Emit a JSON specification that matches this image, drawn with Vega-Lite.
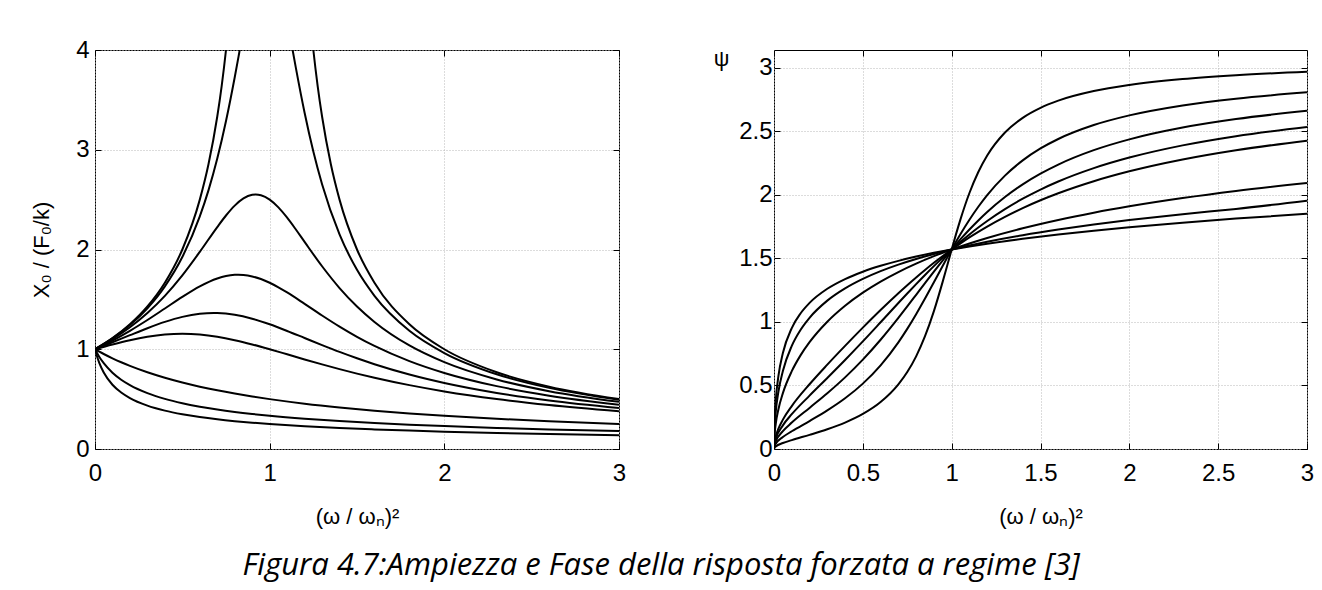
{
  "$schema": "https://vega.github.io/schema/vega-lite/v6.json",
  "background": "white",
  "padding": {"left": 30, "top": 5, "right": 5, "bottom": 5},
  "bounds": "flush",
  "spacing": 155,
  "title": {"text": "Figura 4.7:Ampiezza e Fase della risposta forzata a regime [3]", "orient": "bottom", "anchor": "middle", "font": "Open Sans", "fontStyle": "italic", "fontWeight": "normal", "fontSize": 31, "color": "#000", "offset": 23, "dx": -11},
  "datasets": {
    "amp": [
      {"z":"0","x":0,"y":1},{"z":"0","x":0.1,"y":1.1111},{"z":"0","x":0.2,"y":1.25},{"z":"0","x":0.3,"y":1.4286},{"z":"0","x":0.4,"y":1.6667},{"z":"0","x":0.5,"y":2},{"z":"0","x":0.6,"y":2.5},{"z":"0","x":0.65,"y":2.8571},{"z":"0","x":0.7,"y":3.3333},{"z":"0","x":0.725,"y":3.6364},{"z":"0","x":0.75,"y":4},{"z":"0","x":0.775,"y":4.4444},{"z":"0","x":1.225,"y":4.4444},{"z":"0","x":1.25,"y":4},{"z":"0","x":1.275,"y":3.6364},{"z":"0","x":1.3,"y":3.3333},{"z":"0","x":1.35,"y":2.8571},{"z":"0","x":1.4,"y":2.5},{"z":"0","x":1.5,"y":2},{"z":"0","x":1.6,"y":1.6667},{"z":"0","x":1.8,"y":1.25},{"z":"0","x":2,"y":1},{"z":"0","x":2.3,"y":0.7692},{"z":"0","x":2.6,"y":0.625},{"z":"0","x":3,"y":0.5},
      {"z":"0.1","x":0,"y":1},{"z":"0.1","x":0.1,"y":1.1084},{"z":"0.1","x":0.2,"y":1.2423},{"z":"0.1","x":0.3,"y":1.4114},{"z":"0.1","x":0.4,"y":1.6308},{"z":"0.1","x":0.5,"y":1.9245},{"z":"0.1","x":0.6,"y":2.3313},{"z":"0.1","x":0.65,"y":2.595},{"z":"0.1","x":0.7,"y":2.9111},{"z":"0.1","x":0.75,"y":3.288},{"z":"0.1","x":0.8,"y":3.7268},{"z":"0.1","x":0.825,"y":3.9645},{"z":"0.1","x":0.85,"y":4.2071},{"z":"0.1","x":1.1,"y":4.3033},{"z":"0.1","x":1.125,"y":4.0614},{"z":"0.1","x":1.15,"y":3.8208},{"z":"0.1","x":1.2,"y":3.371},{"z":"0.1","x":1.25,"y":2.9814},{"z":"0.1","x":1.3,"y":2.6537},{"z":"0.1","x":1.4,"y":2.1517},{"z":"0.1","x":1.5,"y":1.7961},{"z":"0.1","x":1.6,"y":1.5357},{"z":"0.1","x":1.8,"y":1.1851},{"z":"0.1","x":2,"y":0.9623},{"z":"0.1","x":2.3,"y":0.7491},{"z":"0.1","x":2.6,"y":0.6127},{"z":"0.1","x":3,"y":0.4927},
      {"z":"0.2","x":0,"y":1},{"z":"0.2","x":0.1,"y":1.1003},{"z":"0.2","x":0.2,"y":1.2199},{"z":"0.2","x":0.3,"y":1.3634},{"z":"0.2","x":0.4,"y":1.5357},{"z":"0.2","x":0.5,"y":1.7408},{"z":"0.2","x":0.6,"y":1.9764},{"z":"0.2","x":0.7,"y":2.225},{"z":"0.2","x":0.75,"y":2.3408},{"z":"0.2","x":0.8,"y":2.4398},{"z":"0.2","x":0.85,"y":2.5118},{"z":"0.2","x":0.9,"y":2.5482},{"z":"0.2","x":0.92,"y":2.5516},{"z":"0.2","x":0.95,"y":2.5441},{"z":"0.2","x":1,"y":2.5},{"z":"0.2","x":1.05,"y":2.4218},{"z":"0.2","x":1.1,"y":2.3187},{"z":"0.2","x":1.15,"y":2.2006},{"z":"0.2","x":1.2,"y":2.0761},{"z":"0.2","x":1.3,"y":1.8319},{"z":"0.2","x":1.4,"y":1.6137},{"z":"0.2","x":1.5,"y":1.4286},{"z":"0.2","x":1.6,"y":1.2741},{"z":"0.2","x":1.8,"y":1.0381},{"z":"0.2","x":2,"y":0.8704},{"z":"0.2","x":2.3,"y":0.6971},{"z":"0.2","x":2.6,"y":0.5797},{"z":"0.2","x":3,"y":0.4725},
      {"z":"0.3","x":0,"y":1},{"z":"0.3","x":0.1,"y":1.0872},{"z":"0.3","x":0.2,"y":1.1851},{"z":"0.3","x":0.3,"y":1.2932},{"z":"0.3","x":0.4,"y":1.4086},{"z":"0.3","x":0.5,"y":1.525},{"z":"0.3","x":0.6,"y":1.6308},{"z":"0.3","x":0.7,"y":1.71},{"z":"0.3","x":0.75,"y":1.7342},{"z":"0.3","x":0.8,"y":1.7461},{"z":"0.3","x":0.82,"y":1.7472},{"z":"0.3","x":0.85,"y":1.7448},{"z":"0.3","x":0.9,"y":1.7303},{"z":"0.3","x":0.95,"y":1.7037},{"z":"0.3","x":1,"y":1.6667},{"z":"0.3","x":1.05,"y":1.6211},{"z":"0.3","x":1.1,"y":1.5694},{"z":"0.3","x":1.2,"y":1.4556},{"z":"0.3","x":1.3,"y":1.3387},{"z":"0.3","x":1.4,"y":1.2272},{"z":"0.3","x":1.5,"y":1.1251},{"z":"0.3","x":1.6,"y":1.0336},{"z":"0.3","x":1.8,"y":0.8811},{"z":"0.3","x":2,"y":0.7625},{"z":"0.3","x":2.3,"y":0.6302},{"z":"0.3","x":2.6,"y":0.5348},{"z":"0.3","x":3,"y":0.4437},
      {"z":"0.4","x":0,"y":1},{"z":"0.4","x":0.1,"y":1.0697},{"z":"0.4","x":0.2,"y":1.1411},{"z":"0.4","x":0.3,"y":1.2109},{"z":"0.4","x":0.4,"y":1.2741},{"z":"0.4","x":0.5,"y":1.3245},{"z":"0.4","x":0.6,"y":1.3558},{"z":"0.4","x":0.68,"y":1.3639},{"z":"0.4","x":0.7,"y":1.3634},{"z":"0.4","x":0.8,"y":1.346},{"z":"0.4","x":0.9,"y":1.3063},{"z":"0.4","x":1,"y":1.25},{"z":"0.4","x":1.1,"y":1.1835},{"z":"0.4","x":1.2,"y":1.1125},{"z":"0.4","x":1.3,"y":1.0414},{"z":"0.4","x":1.4,"y":0.9731},{"z":"0.4","x":1.5,"y":0.9091},{"z":"0.4","x":1.6,"y":0.85},{"z":"0.4","x":1.8,"y":0.747},{"z":"0.4","x":2,"y":0.6623},{"z":"0.4","x":2.3,"y":0.5624},{"z":"0.4","x":2.6,"y":0.4866},{"z":"0.4","x":3,"y":0.411},
      {"z":"0.5","x":0,"y":1},{"z":"0.5","x":0.1,"y":1.0483},{"z":"0.5","x":0.2,"y":1.0911},{"z":"0.5","x":0.3,"y":1.1251},{"z":"0.5","x":0.4,"y":1.1471},{"z":"0.5","x":0.5,"y":1.1547},{"z":"0.5","x":0.6,"y":1.1471},{"z":"0.5","x":0.7,"y":1.1251},{"z":"0.5","x":0.8,"y":1.0911},{"z":"0.5","x":0.9,"y":1.0483},{"z":"0.5","x":1,"y":1},{"z":"0.5","x":1.1,"y":0.9492},{"z":"0.5","x":1.2,"y":0.898},{"z":"0.5","x":1.3,"y":0.8482},{"z":"0.5","x":1.4,"y":0.8006},{"z":"0.5","x":1.5,"y":0.7559},{"z":"0.5","x":1.6,"y":0.7143},{"z":"0.5","x":1.8,"y":0.6402},{"z":"0.5","x":2,"y":0.5774},{"z":"0.5","x":2.3,"y":0.5006},{"z":"0.5","x":2.6,"y":0.4402},{"z":"0.5","x":3,"y":0.378},
      {"z":"1","x":0,"y":1},{"z":"1","x":0.025,"y":0.9756},{"z":"1","x":0.05,"y":0.9524},{"z":"1","x":0.1,"y":0.9091},{"z":"1","x":0.15,"y":0.8696},{"z":"1","x":0.2,"y":0.8333},{"z":"1","x":0.3,"y":0.7692},{"z":"1","x":0.4,"y":0.7143},{"z":"1","x":0.5,"y":0.6667},{"z":"1","x":0.6,"y":0.625},{"z":"1","x":0.7,"y":0.5882},{"z":"1","x":0.8,"y":0.5556},{"z":"1","x":0.9,"y":0.5263},{"z":"1","x":1,"y":0.5},{"z":"1","x":1.2,"y":0.4545},{"z":"1","x":1.4,"y":0.4167},{"z":"1","x":1.6,"y":0.3846},{"z":"1","x":1.8,"y":0.3571},{"z":"1","x":2,"y":0.3333},{"z":"1","x":2.3,"y":0.303},{"z":"1","x":2.6,"y":0.2778},{"z":"1","x":3,"y":0.25},
      {"z":"1.5","x":0,"y":1},{"z":"1.5","x":0.01,"y":0.9667},{"z":"1.5","x":0.025,"y":0.9223},{"z":"1.5","x":0.05,"y":0.8599},{"z":"1.5","x":0.1,"y":0.7647},{"z":"1.5","x":0.15,"y":0.6946},{"z":"1.5","x":0.2,"y":0.6402},{"z":"1.5","x":0.3,"y":0.5599},{"z":"1.5","x":0.4,"y":0.5025},{"z":"1.5","x":0.5,"y":0.4588},{"z":"1.5","x":0.6,"y":0.4241},{"z":"1.5","x":0.7,"y":0.3956},{"z":"1.5","x":0.8,"y":0.3716},{"z":"1.5","x":0.9,"y":0.3511},{"z":"1.5","x":1,"y":0.3333},{"z":"1.5","x":1.2,"y":0.3037},{"z":"1.5","x":1.4,"y":0.2799},{"z":"1.5","x":1.6,"y":0.2603},{"z":"1.5","x":1.8,"y":0.2437},{"z":"1.5","x":2,"y":0.2294},{"z":"1.5","x":2.3,"y":0.2113},{"z":"1.5","x":2.6,"y":0.1963},{"z":"1.5","x":3,"y":0.1796},
      {"z":"2","x":0,"y":1},{"z":"2","x":0.01,"y":0.9365},{"z":"2","x":0.025,"y":0.8605},{"z":"2","x":0.05,"y":0.7664},{"z":"2","x":0.1,"y":0.6442},{"z":"2","x":0.15,"y":0.5659},{"z":"2","x":0.2,"y":0.5103},{"z":"2","x":0.3,"y":0.4348},{"z":"2","x":0.4,"y":0.3846},{"z":"2","x":0.5,"y":0.3482},{"z":"2","x":0.6,"y":0.3201},{"z":"2","x":0.7,"y":0.2976},{"z":"2","x":0.8,"y":0.2791},{"z":"2","x":0.9,"y":0.2634},{"z":"2","x":1,"y":0.25},{"z":"2","x":1.2,"y":0.228},{"z":"2","x":1.4,"y":0.2105},{"z":"2","x":1.6,"y":0.1963},{"z":"2","x":1.8,"y":0.1843},{"z":"2","x":2,"y":0.1741},{"z":"2","x":2.3,"y":0.1612},{"z":"2","x":2.6,"y":0.1505},{"z":"2","x":3,"y":0.1387}
    ],
    "phase": [
      {"z":"0.1","x":0,"y":0},{"z":"0.1","x":0.0025,"y":0.01},{"z":"0.1","x":0.01,"y":0.0202},{"z":"0.1","x":0.05,"y":0.047},{"z":"0.1","x":0.1,"y":0.0702},{"z":"0.1","x":0.2,"y":0.1113},{"z":"0.1","x":0.3,"y":0.1552},{"z":"0.1","x":0.4,"y":0.2078},{"z":"0.1","x":0.5,"y":0.2757},{"z":"0.1","x":0.6,"y":0.3695},{"z":"0.1","x":0.7,"y":0.5088},{"z":"0.1","x":0.75,"y":0.6059},{"z":"0.1","x":0.8,"y":0.7297},{"z":"0.1","x":0.85,"y":0.8879},{"z":"0.1","x":0.9,"y":1.0857},{"z":"0.1","x":0.95,"y":1.3197},{"z":"0.1","x":0.975,"y":1.4449},{"z":"0.1","x":1,"y":1.5708},{"z":"0.1","x":1.025,"y":1.6937},{"z":"0.1","x":1.05,"y":1.8101},{"z":"0.1","x":1.1,"y":2.0157},{"z":"0.1","x":1.15,"y":2.1811},{"z":"0.1","x":1.2,"y":2.3107},{"z":"0.1","x":1.3,"y":2.4917},{"z":"0.1","x":1.4,"y":2.6074},{"z":"0.1","x":1.5,"y":2.686},{"z":"0.1","x":1.6,"y":2.7426},{"z":"0.1","x":1.8,"y":2.818},{"z":"0.1","x":2,"y":2.8659},{"z":"0.1","x":2.3,"y":2.9124},{"z":"0.1","x":2.6,"y":2.9427},{"z":"0.1","x":3,"y":2.9701},
      {"z":"0.2","x":0,"y":0},{"z":"0.2","x":0.0025,"y":0.02},{"z":"0.2","x":0.01,"y":0.0404},{"z":"0.2","x":0.05,"y":0.0939},{"z":"0.2","x":0.1,"y":0.1396},{"z":"0.2","x":0.2,"y":0.22},{"z":"0.2","x":0.3,"y":0.3037},{"z":"0.2","x":0.4,"y":0.399},{"z":"0.2","x":0.5,"y":0.5148},{"z":"0.2","x":0.6,"y":0.6591},{"z":"0.2","x":0.7,"y":0.84},{"z":"0.2","x":0.75,"y":0.9457},{"z":"0.2","x":0.8,"y":1.0611},{"z":"0.2","x":0.85,"y":1.1845},{"z":"0.2","x":0.9,"y":1.3131},{"z":"0.2","x":0.95,"y":1.4433},{"z":"0.2","x":1,"y":1.5708},{"z":"0.2","x":1.05,"y":1.6922},{"z":"0.2","x":1.1,"y":1.8048},{"z":"0.2","x":1.15,"y":1.9072},{"z":"0.2","x":1.2,"y":1.999},{"z":"0.2","x":1.3,"y":2.1526},{"z":"0.2","x":1.4,"y":2.2725},{"z":"0.2","x":1.5,"y":2.3664},{"z":"0.2","x":1.6,"y":2.441},{"z":"0.2","x":1.8,"y":2.5507},{"z":"0.2","x":2,"y":2.6268},{"z":"0.2","x":2.3,"y":2.705},{"z":"0.2","x":2.6,"y":2.7584},{"z":"0.2","x":3,"y":2.8081},
      {"z":"0.3","x":0,"y":0},{"z":"0.3","x":0.0025,"y":0.0301},{"z":"0.3","x":0.01,"y":0.0605},{"z":"0.3","x":0.05,"y":0.1403},{"z":"0.3","x":0.1,"y":0.2078},{"z":"0.3","x":0.2,"y":0.3236},{"z":"0.3","x":0.3,"y":0.4389},{"z":"0.3","x":0.4,"y":0.564},{"z":"0.3","x":0.5,"y":0.7036},{"z":"0.3","x":0.6,"y":0.8601},{"z":"0.3","x":0.7,"y":1.0321},{"z":"0.3","x":0.75,"y":1.1224},{"z":"0.3","x":0.8,"y":1.2141},{"z":"0.3","x":0.85,"y":1.306},{"z":"0.3","x":0.9,"y":1.3969},{"z":"0.3","x":0.95,"y":1.4855},{"z":"0.3","x":1,"y":1.5708},{"z":"0.3","x":1.05,"y":1.6519},{"z":"0.3","x":1.1,"y":1.7284},{"z":"0.3","x":1.15,"y":1.7998},{"z":"0.3","x":1.2,"y":1.8662},{"z":"0.3","x":1.3,"y":1.9841},{"z":"0.3","x":1.4,"y":2.0839},{"z":"0.3","x":1.5,"y":2.1683},{"z":"0.3","x":1.6,"y":2.2398},{"z":"0.3","x":1.8,"y":2.3531},{"z":"0.3","x":2,"y":2.438},{"z":"0.3","x":2.3,"y":2.5309},{"z":"0.3","x":2.6,"y":2.5977},{"z":"0.3","x":3,"y":2.6624},
      {"z":"0.4","x":0,"y":0},{"z":"0.4","x":0.0025,"y":0.0401},{"z":"0.4","x":0.01,"y":0.0806},{"z":"0.4","x":0.05,"y":0.1861},{"z":"0.4","x":0.1,"y":0.274},{"z":"0.4","x":0.2,"y":0.4205},{"z":"0.4","x":0.3,"y":0.5593},{"z":"0.4","x":0.4,"y":0.7006},{"z":"0.4","x":0.5,"y":0.847},{"z":"0.4","x":0.6,"y":0.9976},{"z":"0.4","x":0.7,"y":1.1494},{"z":"0.4","x":0.75,"y":1.2245},{"z":"0.4","x":0.8,"y":1.2982},{"z":"0.4","x":0.85,"y":1.3702},{"z":"0.4","x":0.9,"y":1.4398},{"z":"0.4","x":0.95,"y":1.5068},{"z":"0.4","x":1,"y":1.5708},{"z":"0.4","x":1.05,"y":1.6317},{"z":"0.4","x":1.1,"y":1.6894},{"z":"0.4","x":1.15,"y":1.7439},{"z":"0.4","x":1.2,"y":1.7952},{"z":"0.4","x":1.3,"y":1.8886},{"z":"0.4","x":1.4,"y":1.9706},{"z":"0.4","x":1.5,"y":2.0427},{"z":"0.4","x":1.6,"y":2.106},{"z":"0.4","x":1.8,"y":2.2113},{"z":"0.4","x":2,"y":2.2946},{"z":"0.4","x":2.3,"y":2.3907},{"z":"0.4","x":2.6,"y":2.4631},{"z":"0.4","x":3,"y":2.5357},
      {"z":"0.5","x":0,"y":0},{"z":"0.5","x":0.0025,"y":0.0501},{"z":"0.5","x":0.01,"y":0.1007},{"z":"0.5","x":0.025,"y":0.1608},{"z":"0.5","x":0.05,"y":0.2312},{"z":"0.5","x":0.1,"y":0.3379},{"z":"0.5","x":0.2,"y":0.5097},{"z":"0.5","x":0.3,"y":0.664},{"z":"0.5","x":0.4,"y":0.8117},{"z":"0.5","x":0.5,"y":0.9553},{"z":"0.5","x":0.6,"y":1.0941},{"z":"0.5","x":0.7,"y":1.2265},{"z":"0.5","x":0.75,"y":1.2898},{"z":"0.5","x":0.8,"y":1.3508},{"z":"0.5","x":0.85,"y":1.4095},{"z":"0.5","x":0.9,"y":1.4658},{"z":"0.5","x":0.95,"y":1.5195},{"z":"0.5","x":1,"y":1.5708},{"z":"0.5","x":1.05,"y":1.6196},{"z":"0.5","x":1.1,"y":1.6659},{"z":"0.5","x":1.15,"y":1.7098},{"z":"0.5","x":1.2,"y":1.7514},{"z":"0.5","x":1.3,"y":1.8281},{"z":"0.5","x":1.4,"y":1.8968},{"z":"0.5","x":1.5,"y":1.9584},{"z":"0.5","x":1.6,"y":2.0137},{"z":"0.5","x":1.8,"y":2.1085},{"z":"0.5","x":2,"y":2.1863},{"z":"0.5","x":2.3,"y":2.2795},{"z":"0.5","x":2.6,"y":2.3523},{"z":"0.5","x":3,"y":2.4279},
      {"z":"1","x":0,"y":0},{"z":"1","x":0.0025,"y":0.0999},{"z":"1","x":0.01,"y":0.1993},{"z":"1","x":0.025,"y":0.3136},{"z":"1","x":0.05,"y":0.44},{"z":"1","x":0.1,"y":0.6126},{"z":"1","x":0.15,"y":0.739},{"z":"1","x":0.2,"y":0.8411},{"z":"1","x":0.3,"y":1.0022},{"z":"1","x":0.4,"y":1.1279},{"z":"1","x":0.5,"y":1.231},{"z":"1","x":0.6,"y":1.3182},{"z":"1","x":0.7,"y":1.3934},{"z":"1","x":0.8,"y":1.4594},{"z":"1","x":0.9,"y":1.5181},{"z":"1","x":1,"y":1.5708},{"z":"1","x":1.1,"y":1.6184},{"z":"1","x":1.2,"y":1.6618},{"z":"1","x":1.4,"y":1.7382},{"z":"1","x":1.6,"y":1.8037},{"z":"1","x":1.8,"y":1.8605},{"z":"1","x":2,"y":1.9106},{"z":"1","x":2.3,"y":1.9757},{"z":"1","x":2.6,"y":2.0314},{"z":"1","x":3,"y":2.0944},
      {"z":"1.5","x":0,"y":0},{"z":"1.5","x":0.0025,"y":0.1493},{"z":"1.5","x":0.01,"y":0.2942},{"z":"1.5","x":0.025,"y":0.4528},{"z":"1.5","x":0.05,"y":0.6148},{"z":"1.5","x":0.1,"y":0.8117},{"z":"1.5","x":0.15,"y":0.9392},{"z":"1.5","x":0.2,"y":1.0331},{"z":"1.5","x":0.3,"y":1.1681},{"z":"1.5","x":0.4,"y":1.2645},{"z":"1.5","x":0.5,"y":1.3393},{"z":"1.5","x":0.6,"y":1.4003},{"z":"1.5","x":0.7,"y":1.4519},{"z":"1.5","x":0.8,"y":1.4964},{"z":"1.5","x":0.9,"y":1.5357},{"z":"1.5","x":1,"y":1.5708},{"z":"1.5","x":1.1,"y":1.6026},{"z":"1.5","x":1.2,"y":1.6316},{"z":"1.5","x":1.4,"y":1.683},{"z":"1.5","x":1.6,"y":1.7276},{"z":"1.5","x":1.8,"y":1.767},{"z":"1.5","x":2,"y":1.8023},{"z":"1.5","x":2.3,"y":1.8491},{"z":"1.5","x":2.6,"y":1.8902},{"z":"1.5","x":3,"y":1.9551},
      {"z":"2","x":0,"y":0},{"z":"2","x":0.0025,"y":0.1979},{"z":"2","x":0.01,"y":0.384},{"z":"2","x":0.025,"y":0.5755},{"z":"2","x":0.05,"y":0.7553},{"z":"2","x":0.1,"y":0.9524},{"z":"2","x":0.15,"y":1.069},{"z":"2","x":0.2,"y":1.1503},{"z":"2","x":0.3,"y":1.2615},{"z":"2","x":0.4,"y":1.3379},{"z":"2","x":0.5,"y":1.3958},{"z":"2","x":0.6,"y":1.4424},{"z":"2","x":0.7,"y":1.4814},{"z":"2","x":0.8,"y":1.515},{"z":"2","x":0.9,"y":1.5445},{"z":"2","x":1,"y":1.5708},{"z":"2","x":1.1,"y":1.5946},{"z":"2","x":1.2,"y":1.6164},{"z":"2","x":1.4,"y":1.6551},{"z":"2","x":1.6,"y":1.6888},{"z":"2","x":1.8,"y":1.7188},{"z":"2","x":2,"y":1.7458},{"z":"2","x":2.3,"y":1.7819},{"z":"2","x":2.6,"y":1.814},{"z":"2","x":3,"y":1.8518}
    ]
  },
  "hconcat": [
    {
      "width": 524,
      "height": 399,
      "data": {"name": "amp"},
      "layer": [
        {
          "mark": {"type": "line", "color": "#000", "strokeWidth": 2, "clip": true, "interpolate": "monotone"},
          "encoding": {
            "x": {"field": "x", "type": "quantitative", "scale": {"domain": [0, 3], "nice": false, "zero": false},
                  "axis": {"orient": "bottom", "values": [0, 1, 2, 3], "format": "~g", "title": "(ω / ωₙ)²", "grid": true, "labelPadding": 18, "titlePadding": 21, "titleFontSize": 22}},
            "y": {"field": "y", "type": "quantitative", "scale": {"domain": [0, 4], "nice": false},
                  "axis": {"orient": "left", "values": [0, 1, 2, 3, 4], "format": "~g", "title": "X₀ / (F₀/k)", "grid": true, "titlePadding": 22, "titleFontSize": 22}},
            "detail": {"field": "z", "type": "nominal"}
          }
        },
        {
          "mark": {"type": "line", "opacity": 0},
          "encoding": {
            "x": {"field": "x", "type": "quantitative", "axis": {"orient": "top", "values": [0, 1, 2, 3], "labels": false, "grid": false, "title": null}},
            "y": {"field": "y", "type": "quantitative", "axis": {"orient": "right", "values": [0, 1, 2, 3, 4], "labels": false, "grid": false, "title": null}},
            "detail": {"field": "z", "type": "nominal"}
          }
        }
      ],
      "resolve": {"axis": {"x": "independent", "y": "independent"}}
    },
    {
      "width": 533,
      "height": 399,
      "data": {"name": "phase"},
      "layer": [
        {
          "mark": {"type": "line", "color": "#000", "strokeWidth": 2, "clip": true, "interpolate": "monotone"},
          "encoding": {
            "x": {"field": "x", "type": "quantitative", "scale": {"domain": [0, 3], "nice": false, "zero": false},
                  "axis": {"orient": "bottom", "values": [0, 0.5, 1, 1.5, 2, 2.5, 3], "format": "~g", "title": "(ω / ωₙ)²", "grid": true, "labelPadding": 18, "titlePadding": 21, "titleFontSize": 22}},
            "y": {"field": "y", "type": "quantitative", "scale": {"domain": [0, 3.14159], "nice": false},
                  "axis": {"orient": "left", "values": [0, 0.5, 1, 1.5, 2, 2.5, 3], "format": "~g", "title": "ψ", "grid": true, "labelPadding": 8, "titleAngle": 0, "titleX": -53, "titleY": 8, "titleAlign": "center", "titleBaseline": "middle", "titleFontSize": 22}},
            "detail": {"field": "z", "type": "nominal"}
          }
        },
        {
          "mark": {"type": "line", "opacity": 0},
          "encoding": {
            "x": {"field": "x", "type": "quantitative", "axis": {"orient": "top", "values": [0, 0.5, 1, 1.5, 2, 2.5, 3], "labels": false, "grid": false, "title": null}},
            "y": {"field": "y", "type": "quantitative", "axis": {"orient": "right", "values": [0, 0.5, 1, 1.5, 2, 2.5, 3], "labels": false, "grid": false, "title": null}},
            "detail": {"field": "z", "type": "nominal"}
          }
        }
      ],
      "resolve": {"axis": {"x": "independent", "y": "independent"}}
    }
  ],
  "config": {
    "view": {"stroke": "#000", "strokeWidth": 1},
    "axis": {
      "domain": false,
      "labelFont": "Liberation Sans",
      "labelFontSize": 24,
      "labelColor": "#000",
      "labelFlush": false,
      "labelOverlap": false,
      "tickColor": "#000",
      "tickSize": -6,
      "labelPadding": 12,
      "gridColor": "#b8b8b8",
      "gridDash": [1, 2],
      "gridWidth": 1,
      "titleFont": "Liberation Sans",
      "titleFontSize": 20,
      "titleFontWeight": "normal",
      "titleColor": "#000"
    }
  }
}
